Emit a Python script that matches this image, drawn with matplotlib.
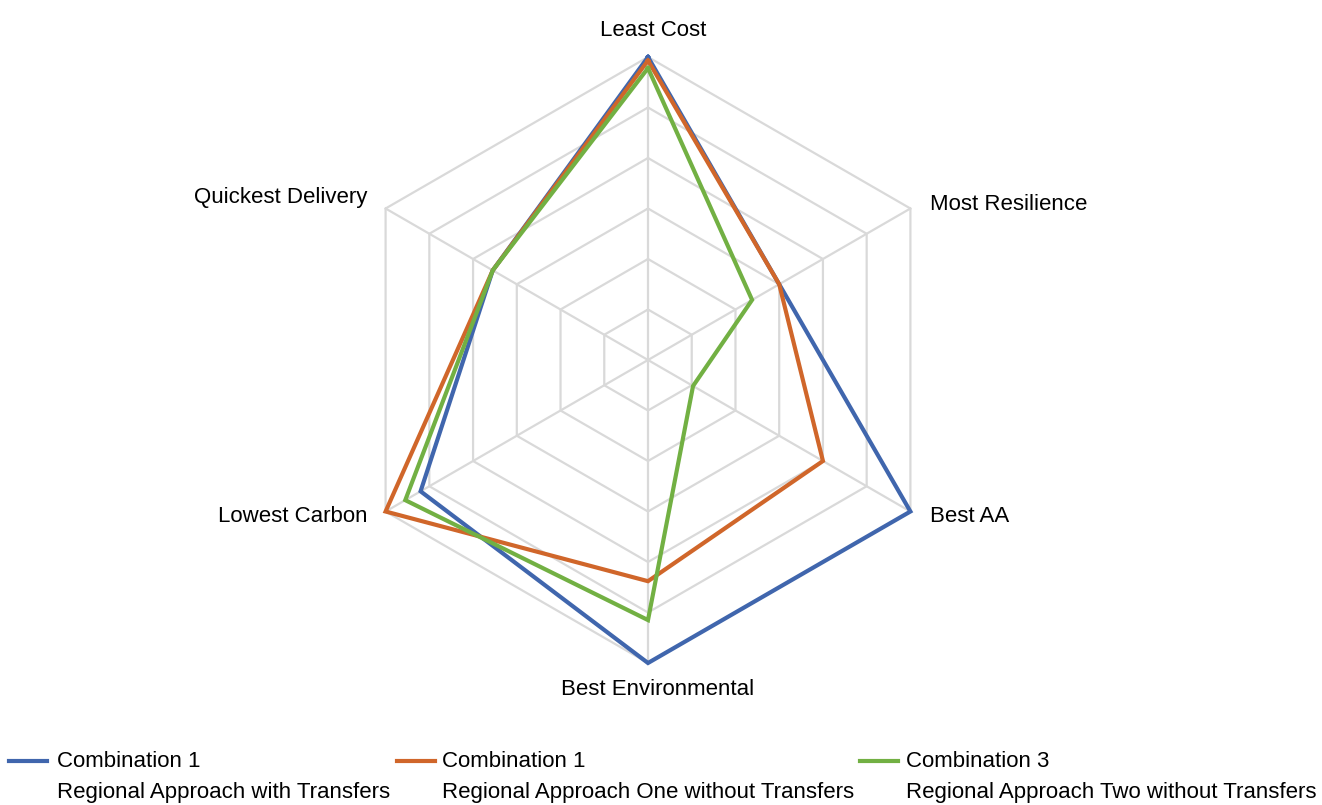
import numpy as np
import matplotlib
matplotlib.use("Agg")
import matplotlib.pyplot as plt
from matplotlib.lines import Line2D
from matplotlib import font_manager

categories = ["Least Cost", "Most Resilience", "Best AA", "Best Environmental",
              "Lowest Carbon", "Quickest Delivery"]
series_names = ["Combination 1\nRegional Approach with Transfers",
                "Combination 1\nRegional Approach One without Transfers",
                "Combination 3\nRegional Approach Two without Transfers"]
combo1_transfers = [6.0, 3.0, 6.0, 6.0, 5.2, 3.55]
combo1_no_transfers = [5.93, 3.0, 4.0, 4.38, 6.0, 3.55]
combo3_no_transfers = [5.78, 2.38, 1.03, 5.15, 5.55, 3.55]
ring_levels = [1, 2, 3, 4, 5, 6]

colors = ["#4066AD", "#D0662A", "#72B043"]

avail = {f.name for f in font_manager.fontManager.ttflist}
fam = "Liberation Sans Narrow" if "Liberation Sans Narrow" in avail else "Liberation Sans"
plt.rcParams["font.family"] = [fam, "DejaVu Sans"]

W, H = 1322, 805
fig = plt.figure(figsize=(W / 100, H / 100), dpi=100)
cx, cy, R = 648, 360, 303
ax = fig.add_axes([(cx - R) / W, (H - cy - R) / H, 2 * R / W, 2 * R / H], projection="polar")
ax.set_theta_zero_location("N")
ax.set_theta_direction(-1)
ax.set_ylim(0, 6)
ax.grid(False)
ax.spines["polar"].set_visible(False)
ax.set_xticks([])
ax.set_yticks([])
ax.patch.set_alpha(0)

n = len(categories)
angles = np.linspace(0, 2 * np.pi, n, endpoint=False)
closed = np.concatenate([angles, angles[:1]])

grid_color = "#D9D9D9"
for lv in ring_levels:
    ax.plot(closed, [lv] * (n + 1), color=grid_color, lw=1.6, zorder=1, clip_on=False)
for a in angles:
    ax.plot([a, a], [0, ring_levels[-1]], color=grid_color, lw=1.6, zorder=1, clip_on=False)

data = [combo1_transfers, combo1_no_transfers, combo3_no_transfers]
for vals, c in zip(data, colors):
    v = list(vals) + [vals[0]]
    ax.plot(closed, v, color=c, lw=3.0, zorder=3, clip_on=False, solid_joinstyle="miter")

fs = 16
label_pos = [
    (653, 30, "center"),
    (930, 205, "left"),
    (930, 516, "left"),
    (658, 689, "center"),
    (367, 516, "right"),
    (367, 198, "right"),
]
for cat, (x, y, ha) in zip(categories, label_pos):
    fig.text(x / W, 1 - y / H, cat, ha=ha, va="center", fontsize=fs, color="#000000")

# legend
leg_line_x = [9, 397, 860]
leg_text_x = [57, 442, 906]
for name, c, x, tx in zip(series_names, colors, leg_line_x, leg_text_x):
    fig.add_artist(Line2D([x / W, (x + 38) / W], [1 - 761 / H, 1 - 761 / H],
                          color=c, lw=3.0, transform=fig.transFigure))
    l1, l2 = name.split("\n")
    fig.text(tx / W, 1 - 761 / H, l1, ha="left", va="center", fontsize=fs)
    fig.text(tx / W, 1 - 792 / H, l2, ha="left", va="center", fontsize=fs)

fig.savefig("out.png", dpi=100, facecolor="white")
